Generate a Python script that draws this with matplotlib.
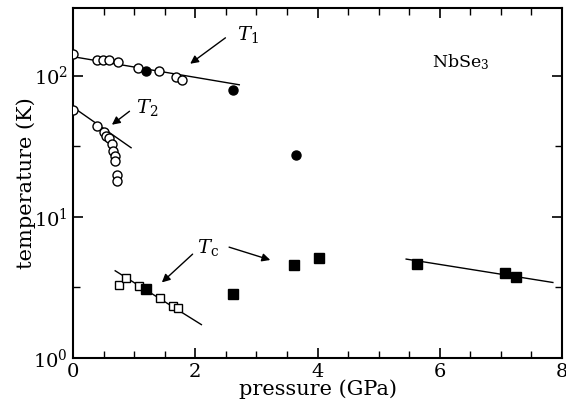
import numpy as np
import matplotlib
matplotlib.use("Agg")
import matplotlib.pyplot as plt
from matplotlib.ticker import FixedLocator, MultipleLocator, NullFormatter

plt.rcParams["font.family"] = "DejaVu Serif"
plt.rcParams["mathtext.fontset"] = "dejavuserif"

# T1 (CDW transition, upper branch)
t1_open_p = [0.0, 0.39, 0.49, 0.59, 0.73, 1.06, 1.41, 1.68, 1.79]
t1_open_t = [142, 128.6, 128.6, 128, 124, 114, 108, 98, 93]
t1_fill_p = [1.20, 2.61, 3.64]
t1_fill_t = [107, 78.5, 27.4]
t1_fit_p = [0.0, 2.72]
t1_fit_t = [136, 86]

# T2 (CDW transition, lower branch)
t2_open_p = [0.0, 0.40, 0.51, 0.54, 0.59, 0.63, 0.66, 0.69, 0.69, 0.72, 0.72]
t2_open_t = [57, 44, 40, 37.5, 36, 33, 29, 26.8, 24.8, 19.7, 18]
t2_fit_p = [0.0, 0.95]
t2_fit_t = [59.7, 30.8]

# Tc (superconducting)
tc_open_p = [0.75, 0.87, 1.08, 1.42, 1.63, 1.71]
tc_open_t = [3.27, 3.69, 3.23, 2.64, 2.33, 2.24]
tc_fill_p = [1.20, 2.62, 3.62, 4.02, 5.62, 7.06, 7.25]
tc_fill_t = [3.06, 2.83, 4.54, 5.07, 4.62, 3.98, 3.77]
tc_fit1_p = [0.69, 2.10]
tc_fit1_t = [4.14, 1.72]
tc_fit2_p = [5.45, 7.85]
tc_fit2_t = [5.01, 3.42]

fig = plt.figure(figsize=(5.66, 4.09), dpi=100)
ax = fig.add_axes([0.129, 0.125, 0.864, 0.855])

lw = 1.0
for px, py in [(t1_fit_p, t1_fit_t), (t2_fit_p, t2_fit_t),
               (tc_fit1_p, tc_fit1_t), (tc_fit2_p, tc_fit2_t)]:
    ax.plot(px, py, color="black", lw=lw, zorder=2)

ax.plot(t1_open_p, t1_open_t, "o", ms=6.5, mfc="white", mec="black", mew=1.0, zorder=3)
ax.plot(t2_open_p, t2_open_t, "o", ms=6.5, mfc="white", mec="black", mew=1.0, zorder=3)
ax.plot(t1_fill_p, t1_fill_t, "o", ms=6.5, color="black", zorder=3)
ax.plot(tc_open_p, tc_open_t, "s", ms=6, mfc="white", mec="black", mew=1.0, zorder=3)
ax.plot(tc_fill_p, tc_fill_t, "s", ms=7.5, color="black", zorder=3)

arrow = dict(arrowstyle="-|>", color="black", lw=1.0, mutation_scale=12)
ax.annotate("", xy=(1.88, 118), xytext=(2.53, 190), arrowprops=arrow)
ax.annotate("", xy=(0.60, 43.6), xytext=(0.96, 57.4), arrowprops=arrow)
ax.annotate("", xy=(1.42, 3.32), xytext=(1.99, 5.6), arrowprops=arrow)
ax.annotate("", xy=(3.27, 4.87), xytext=(2.51, 6.17), arrowprops=arrow)

ax.text(2.86, 196, r"$T_1$", fontsize=14, ha="center", va="center")
ax.text(1.22, 59, r"$T_2$", fontsize=14, ha="center", va="center")
ax.text(2.2, 6.08, r"$T_{\rm c}$", fontsize=14, ha="center", va="center")
ax.text(6.35, 124, r"NbSe$_3$", fontsize=12.5, ha="center", va="center")

ax.set_yscale("log")
ax.set_xlim(0, 8)
ax.set_ylim(1, 300)
ax.xaxis.set_major_locator(MultipleLocator(2))
ax.xaxis.set_minor_locator(MultipleLocator(0.5))
ax.yaxis.set_minor_locator(FixedLocator([10 ** 0.5, 10 ** 1.5]))
ax.yaxis.set_minor_formatter(NullFormatter())

ax.tick_params(which="both", direction="in", top=True, right=True, labelsize=14)
ax.tick_params(which="major", length=7, width=1.2)
ax.tick_params(which="minor", length=5, width=1.0)
for s in ax.spines.values():
    s.set_linewidth(1.5)

ax.set_xlabel("pressure (GPa)", fontsize=15, labelpad=-1)
ax.set_ylabel("temperature (K)", fontsize=15, labelpad=-2)

fig.savefig("out.png", dpi=100)
